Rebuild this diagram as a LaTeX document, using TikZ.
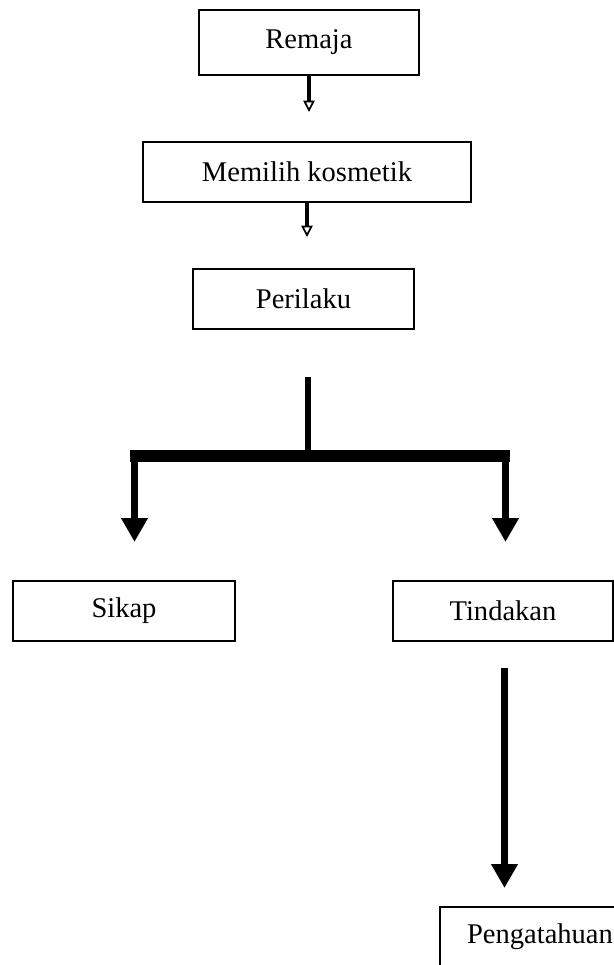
\documentclass[tikz,border=0pt]{standalone}
\usepackage{fontspec}
\setmainfont{Liberation Serif}
\usetikzlibrary{arrows.meta}
\begin{document}
\begin{tikzpicture}[x=0.75pt,y=-0.75pt,
  box/.style={draw=black, line width=1.7pt, inner sep=0pt, minimum height=45pt,
    font=\fontsize{21.4}{26}\selectfont},
  smallarrow/.style={line width=2.4pt,
    -{Triangle[open, width=8.5pt, length=8.5pt, line width=1.3pt]}},
  bigarrow/.style={line width=5.25pt, -{Triangle[width=19pt, length=18pt]}},
  bar/.style={line width=9pt, line cap=butt},
  stem/.style={line width=4.5pt, line cap=butt},
]
\useasboundingbox (0,0) rectangle (614,965);
\clip (0,0) rectangle (614,965);

% boxes
\node[box, minimum width=165pt, minimum height=48.75pt] (remaja) at (309,42.5) {Remaja};
\node[box, minimum width=246pt] (memilih) at (307,172) {Memilih kosmetik};
\node[box, minimum width=165.75pt] (perilaku) at (303.5,299) {Perilaku};
\node[box, minimum width=166.5pt] (sikap) at (124,611) {Sikap};
\node[box, minimum width=165pt] (tindakan) at (503,611) {Tindakan};
\node[box, minimum width=150pt] (penga) at (540,937) {Pengatahuan};

% small arrows
\coordinate (a1) at (309,112);
\coordinate (a2) at (307,237);
\draw[smallarrow] (remaja.south) -- (a1);
\draw[smallarrow] (memilih.south) -- (a2);

% branching
\coordinate (stemtop) at (308,377);
\coordinate (junction) at (308,456);
\coordinate (barL) at (130,456);
\coordinate (barR) at (510,456);
\coordinate (leftTop) at (134.5,456);
\coordinate (leftTip) at (134.5,542);
\coordinate (rightTop) at (505.5,456);
\coordinate (rightTip) at (505.5,542);
\draw[stem] (stemtop) -- (junction);
\draw[bar] (barL) -- (barR);
\draw[bigarrow] (leftTop) -- (leftTip);
\draw[bigarrow] (rightTop) -- (rightTip);

% tindakan arrow
\coordinate (tTop) at (504.5,668);
\coordinate (tTip) at (504.5,888);
\draw[bigarrow] (tTop) -- (tTip);
\end{tikzpicture}
\end{document}
